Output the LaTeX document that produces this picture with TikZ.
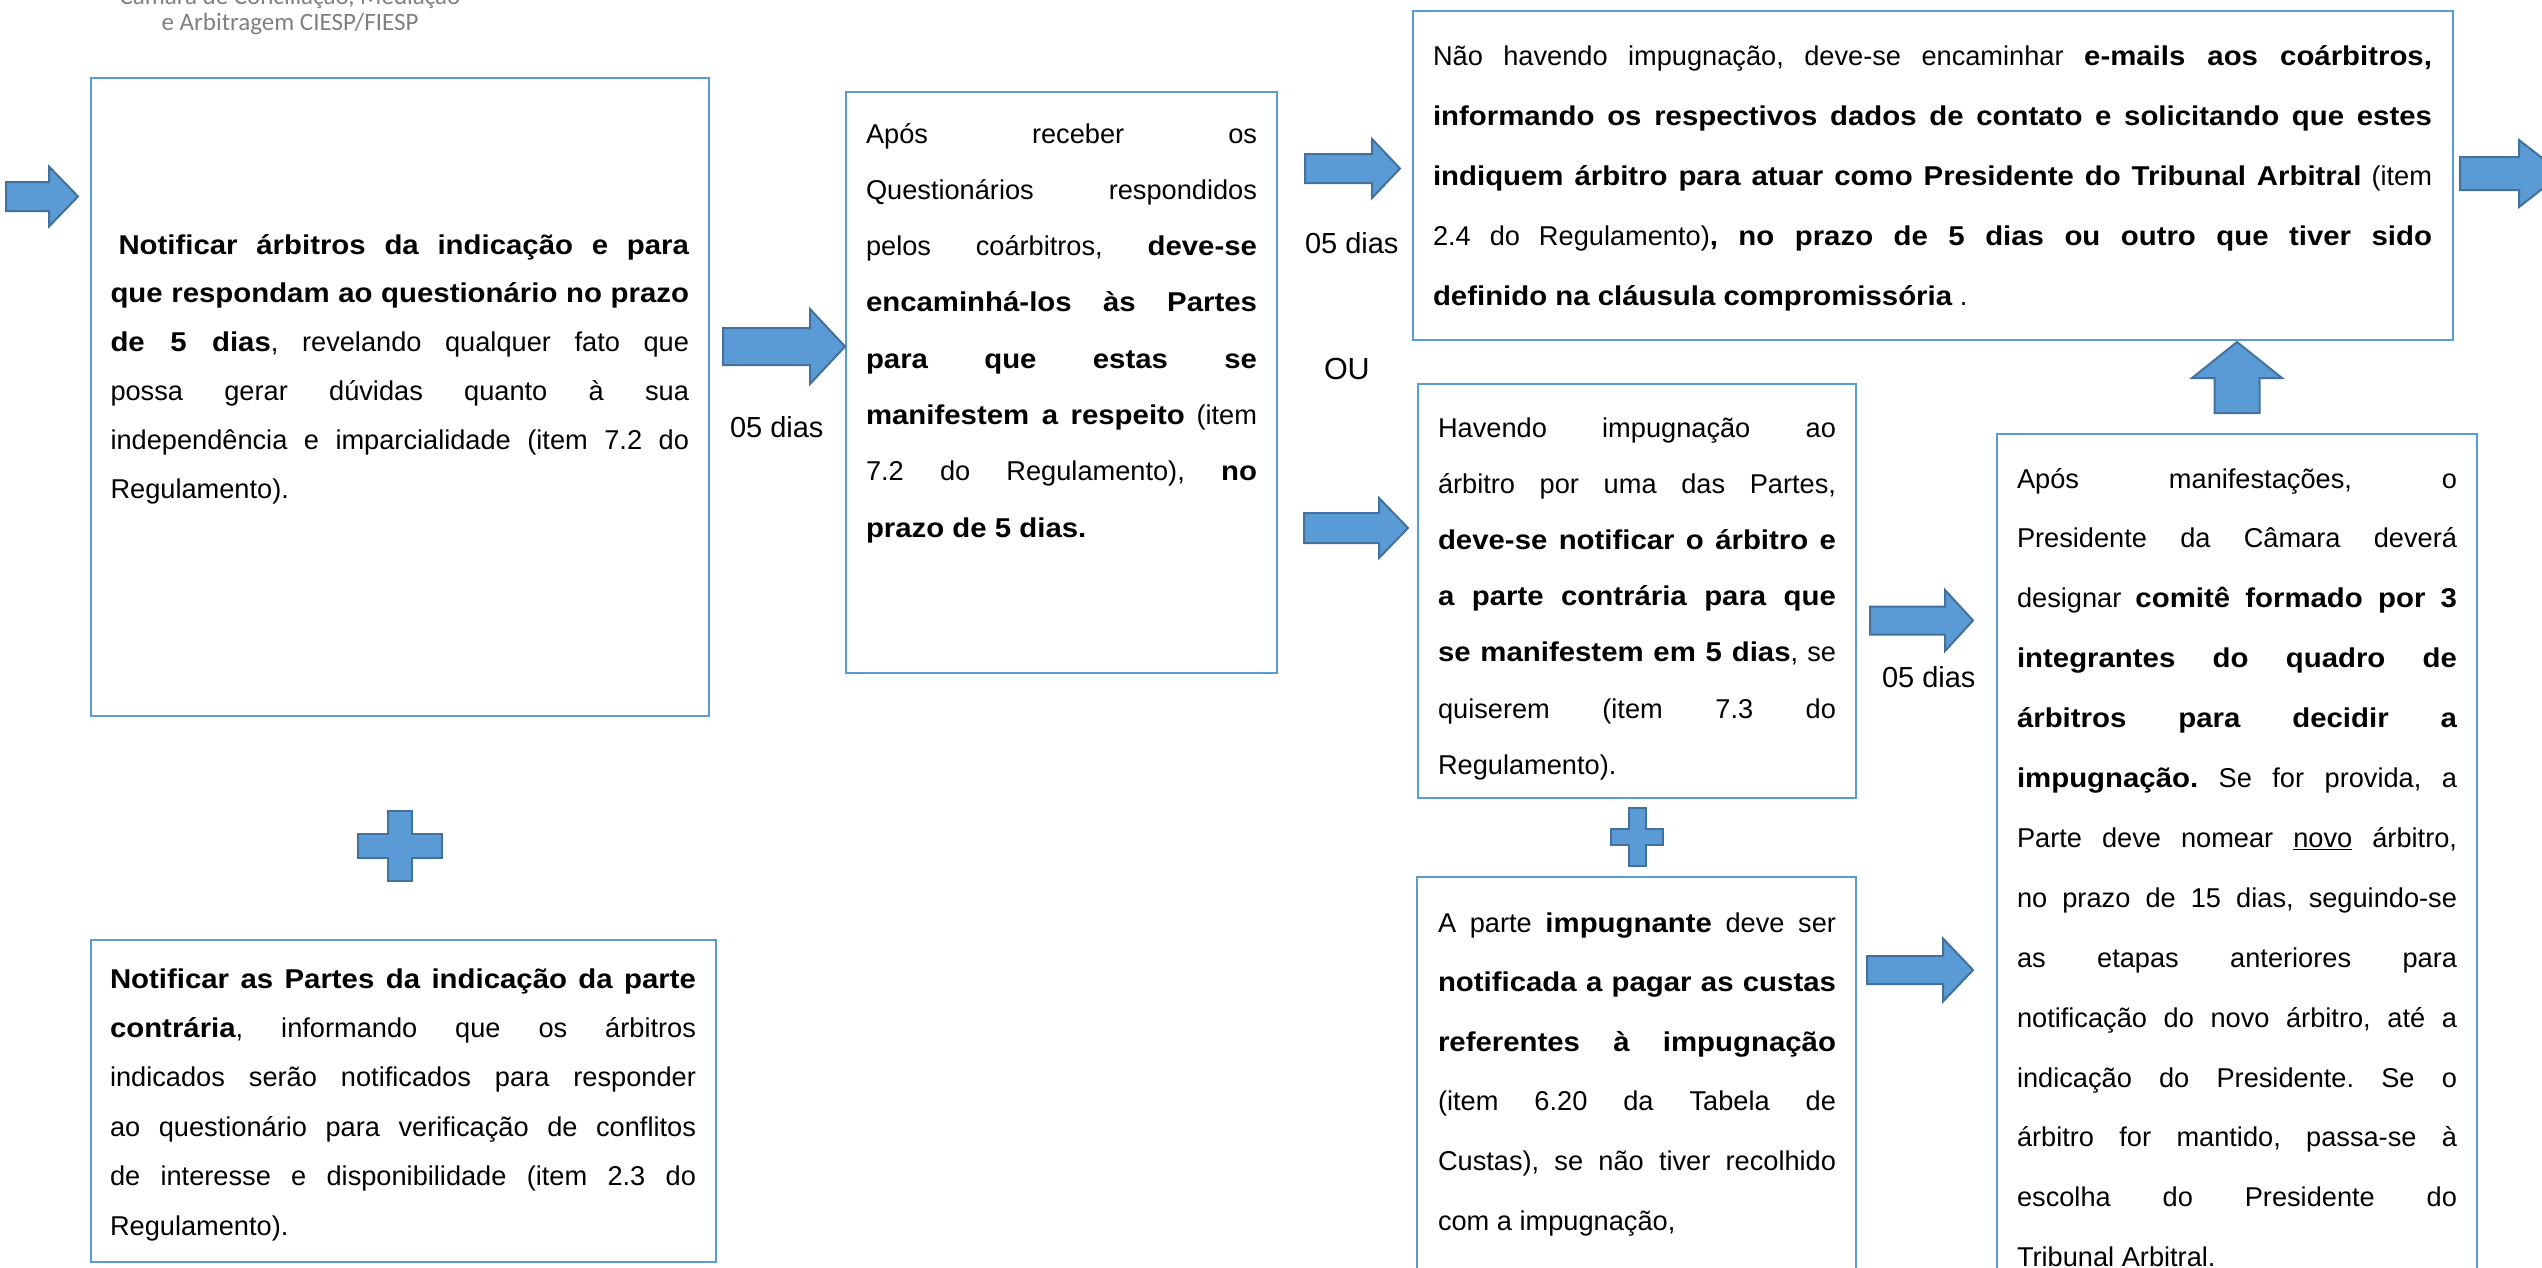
\documentclass[tikz,border=0pt]{standalone}
\usepackage{fontspec}
\setmainfont{Liberation Sans}[BoldFeatures={FakeStretch=1.08}]
\newfontfamily\hdrfont{Carlito}
\definecolor{boxblue}{RGB}{91,155,213}
\definecolor{arrowedge}{RGB}{65,113,156}
\definecolor{hdrgray}{RGB}{128,128,128}
\frenchspacing
\newcommand\JustLine[1]{\makebox[\linewidth][s]{\spaceskip=0pt\xspaceskip=0pt #1}}
\newcommand\LastLine[1]{\makebox[\linewidth][l]{\spaceskip=0pt\xspaceskip=0pt #1}}
% right block arrow: x-start, x-tip, y-centre, shaft half, head half, head base x
\newcommand\RBlockArrow[6]{%
  \draw[blockarrow] (#1,{#3-#4}) -- (#6,{#3-#4}) -- (#6,{#3-#5}) -- (#2,#3)
    -- (#6,{#3+#5}) -- (#6,{#3+#4}) -- (#1,{#3+#4}) -- cycle;}
% up block arrow: x-centre, y-bottom, y-tip, shaft half, head half, head base y
\newcommand\UBlockArrow[6]{%
  \draw[blockarrow] ({#1-#4},#2) -- ({#1-#4},#6) -- ({#1-#5},#6) -- (#1,#3)
    -- ({#1+#5},#6) -- ({#1+#4},#6) -- ({#1+#4},#2) -- cycle;}
% plus sign: cx, cy, half width, half height, vertical bar half width, horizontal bar half height
\newcommand\PlusShape[6]{%
  \draw[blockarrow] ({#1-#5},{#2-#4}) -- ({#1+#5},{#2-#4}) -- ({#1+#5},{#2-#6})
    -- ({#1+#3},{#2-#6}) -- ({#1+#3},{#2+#6}) -- ({#1+#5},{#2+#6})
    -- ({#1+#5},{#2+#4}) -- ({#1-#5},{#2+#4}) -- ({#1-#5},{#2+#6})
    -- ({#1-#3},{#2+#6}) -- ({#1-#3},{#2-#6}) -- ({#1-#5},{#2-#6}) -- cycle;}
\begin{document}
\begin{tikzpicture}[x=1pt,y=-1pt,
  boxsty/.style={draw=boxblue, line width=2.5pt, rectangle, inner sep=0pt,
    outer sep=0pt, anchor=north west},
  blockarrow/.style={fill=boxblue, draw=arrowedge, line width=2pt, line join=miter},
  txt/.style={inner sep=0pt, outer sep=0pt, anchor=base west, align=left,
    font=\fontsize{27.2}{#1}\selectfont},
  lbl/.style={inner sep=0pt, outer sep=0pt, anchor=base west,
    font=\fontsize{29}{34}\selectfont},
  hdr/.style={inner sep=0pt, outer sep=0pt, anchor=base, text=hdrgray,
    font=\hdrfont\fontsize{25}{30}\selectfont}]
\useasboundingbox (0,0) rectangle (2542,1267);
\clip (0,0) rectangle (2542,1267);
\fill[white] (0,0) rectangle (2542,1267);

% header (logo text, cut at the top as in the reference)
\node[hdr] (h1) at (290,4) {Câmara de Conciliação, Mediação};
\node[hdr] (h2) at (290,30) {e Arbitragem CIESP/FIESP};

% boxes
\node[boxsty, minimum width=618pt, minimum height=638pt] (b1) at (91,78) {};
\node[boxsty, minimum width=625pt, minimum height=322pt] (b2) at (91,940) {};
\node[boxsty, minimum width=431pt, minimum height=581pt] (b3) at (846,92) {};
\node[boxsty, minimum width=1040pt, minimum height=329pt] (b4) at (1413,11) {};
\node[boxsty, minimum width=438pt, minimum height=414pt] (b5) at (1418,384) {};
\node[boxsty, minimum width=480pt, minimum height=866pt] (b6) at (1997,434) {};
\node[boxsty, minimum width=439pt, minimum height=423pt] (b7) at (1417,877) {};

% box texts
\node[txt=48.8, text width=578.5pt] (t1) at (110.5,254) {%
\JustLine{\kern8pt\bfseries Notificar árbitros da indicação e para}\\
\JustLine{\bfseries que respondam ao questionário no prazo}\\
\JustLine{\textbf{de 5 dias}, revelando qualquer fato que}\\
\JustLine{possa gerar dúvidas quanto à sua}\\
\JustLine{independência e imparcialidade (item 7.2 do}\\
\LastLine{Regulamento).}};

\node[txt=49.4, text width=586pt] (t2) at (110,988) {%
\JustLine{\bfseries Notificar as Partes da indicação da parte}\\
\JustLine{\textbf{contrária}, informando que os árbitros}\\
\JustLine{indicados serão notificados para responder}\\
\JustLine{ao questionário para verificação de conflitos}\\
\JustLine{de interesse e disponibilidade (item 2.3 do}\\
\LastLine{Regulamento).}};

\node[txt=56.3, text width=391pt] (t3) at (866,143) {%
\JustLine{Após receber os}\\
\JustLine{Questionários respondidos}\\
\JustLine{pelos coárbitros, \textbf{deve-se}}\\
\JustLine{\bfseries encaminhá-los às Partes}\\
\JustLine{\bfseries para que estas se}\\
\JustLine{\textbf{manifestem a respeito} (item}\\
\JustLine{7.2 do Regulamento), \textbf{no}}\\
\LastLine{\bfseries prazo de 5 dias.}};

\node[txt=60, text width=999pt] (t4) at (1433,65) {%
\JustLine{Não havendo impugnação, deve-se encaminhar \textbf{e-mails aos coárbitros,}}\\
\JustLine{\bfseries informando os respectivos dados de contato e solicitando que estes}\\
\JustLine{\textbf{indiquem árbitro para atuar como Presidente do Tribunal Arbitral} (item}\\
\JustLine{2.4 do Regulamento)\textbf{, no prazo de 5 dias ou outro que tiver sido}}\\
\LastLine{\textbf{definido na cláusula compromissória} .}};

\node[txt=56.2, text width=398pt] (t5) at (1438,437) {%
\JustLine{Havendo impugnação ao}\\
\JustLine{árbitro por uma das Partes,}\\
\JustLine{\bfseries deve-se notificar o árbitro e}\\
\JustLine{\bfseries a parte contrária para que}\\
\JustLine{\textbf{se manifestem em 5 dias}, se}\\
\JustLine{quiserem (item 7.3 do}\\
\LastLine{Regulamento).}};

\node[txt=59.9, text width=440pt] (t6) at (2017,488) {%
\JustLine{Após manifestações, o}\\
\JustLine{Presidente da Câmara deverá}\\
\JustLine{designar \textbf{comitê formado por 3}}\\
\JustLine{\bfseries integrantes do quadro de}\\
\JustLine{\bfseries árbitros para decidir a}\\
\JustLine{\textbf{impugnação.} Se for provida, a}\\
\JustLine{Parte deve nomear \underline{novo} árbitro,}\\
\JustLine{no prazo de 15 dias, seguindo-se}\\
\JustLine{as etapas anteriores para}\\
\JustLine{notificação do novo árbitro, até a}\\
\JustLine{indicação do Presidente. Se o}\\
\JustLine{árbitro for mantido, passa-se à}\\
\JustLine{escolha do Presidente do}\\
\LastLine{Tribunal Arbitral.}};

\node[txt=59.6, text width=398pt] (t7) at (1438,932) {%
\JustLine{A parte \textbf{impugnante} deve ser}\\
\JustLine{\bfseries notificada a pagar as custas}\\
\JustLine{\bfseries referentes à impugnação}\\
\JustLine{(item 6.20 da Tabela de}\\
\JustLine{Custas), se não tiver recolhido}\\
\LastLine{com a impugnação,}};

% labels
\node[lbl] (d1) at (730,437) {05 dias};
\node[lbl] (d2) at (1305,253) {05 dias};
\node[lbl] (d3) at (1882,687) {05 dias};
\node[lbl, font=\fontsize{30.5}{36}\selectfont] (ou) at (1324,379) {OU};

% block arrows
\RBlockArrow{6}{78}{196.5}{14.5}{30}{49}
\RBlockArrow{723}{845}{346.5}{18.5}{37.5}{810}
\RBlockArrow{1305}{1400}{168.5}{14.5}{29.5}{1372}
\RBlockArrow{1304}{1408}{528}{15}{30}{1379}
\RBlockArrow{1870}{1973}{620.5}{14}{30.5}{1945}
\RBlockArrow{1867}{1973}{970}{14}{31.5}{1943}
\RBlockArrow{2460}{2562}{173.5}{16.5}{33.5}{2519}
\UBlockArrow{2237}{413}{342}{22.5}{45}{378}

% plus signs
\PlusShape{400}{846}{42}{35}{12}{12}
\PlusShape{1637}{837}{26}{29}{8.5}{8}
\end{tikzpicture}
\end{document}
